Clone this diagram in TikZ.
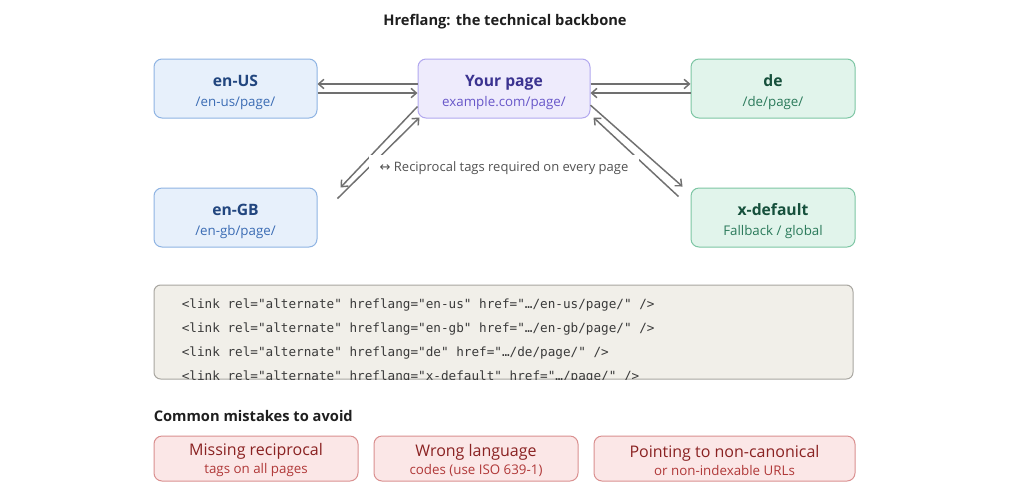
\documentclass[tikz,border=0pt]{standalone}
\usepackage{fontspec}
\setmainfont{Open Sans}
\setmonofont{DejaVu Sans Mono}
\newfontfamily\flechafont{DejaVu Sans}
\usepackage{xcolor}
\usepackage{tikz}
\usetikzlibrary{arrows.meta, positioning, calc}

\definecolor{azulFondo}{HTML}{E7F0FB}
\definecolor{azulBorde}{HTML}{8FB4E3}
\definecolor{azulTexto}{HTML}{22467F}
\definecolor{azulSub}{HTML}{3B6CB4}
\definecolor{moradoFondo}{HTML}{EEEBFC}
\definecolor{moradoBorde}{HTML}{B2A8EF}
\definecolor{moradoTexto}{HTML}{3B3390}
\definecolor{moradoSub}{HTML}{6857C9}
\definecolor{verdeFondo}{HTML}{E1F4EB}
\definecolor{verdeBorde}{HTML}{7DC6A4}
\definecolor{verdeTexto}{HTML}{16503C}
\definecolor{verdeSub}{HTML}{2B7A5B}
\definecolor{codFondo}{HTML}{F1EFE9}
\definecolor{codBorde}{HTML}{A8A6A0}
\definecolor{codTexto}{HTML}{3A3A3A}
\definecolor{rojoFondo}{HTML}{FBE7E7}
\definecolor{rojoBorde}{HTML}{DA9090}
\definecolor{rojoTexto}{HTML}{8A2222}
\definecolor{rojoSub}{HTML}{B03838}
\definecolor{gris}{HTML}{707070}

\newcommand{\tit}[1]{{\fontsize{11.75}{12}\selectfont\bfseries\rule{0pt}{14.5pt}#1}}
\newcommand{\err}[1]{{\fontsize{12}{12}\selectfont\rule{0pt}{12pt}#1}}

\begin{document}
\begin{tikzpicture}[
  x=0.75pt, y=-0.75pt,
  caja/.style={rectangle, rounded corners=6pt, line width=0.75pt, inner sep=0pt,
               minimum height=44.25pt, align=center,
               font=\fontsize{10}{15.25}\selectfont},
  idioma/.style={caja, fill=azulFondo, draw=azulBorde, text=azulTexto, minimum width=122.25pt},
  principal/.style={caja, fill=moradoFondo, draw=moradoBorde, text=moradoTexto, minimum width=129pt},
  verde/.style={caja, fill=verdeFondo, draw=verdeBorde, text=verdeTexto, minimum width=123pt},
  codigo/.style={rectangle, rounded corners=5pt, line width=0.75pt, fill=codFondo, draw=codBorde,
                 minimum width=524.25pt, minimum height=70.5pt, inner sep=0pt},
  linea/.style={font=\ttfamily\fontsize{9.5}{11}\selectfont, text=codTexto, inner sep=0pt, anchor=base west},
  error/.style={caja, fill=rojoFondo, draw=rojoBorde, text=rojoTexto, minimum height=33.75pt,
                font=\fontsize{10}{13.5}\selectfont},
  fl/.style={-{Straight Barb[length=4pt, width=7pt]}, line width=1.1pt, gris},
  etiqueta/.style={font=\fontsize{9.75}{11}\selectfont, text=black!68, fill=white,
                   inner xsep=8pt, minimum height=19.5pt},
  titulo/.style={font=\fontsize{11}{12}\selectfont\bfseries, text=black!88, inner sep=0pt}
]
\path[use as bounding box, fill=white] (0,0) rectangle (1024,501);

% ---- Titulo ----
\node[titulo] (tit) at (505,22) {Hreflang: the technical backbone};

% ---- Paginas ----
\node[principal] (page) at (504,88.5) {\tit{Your page}\\{\color{moradoSub}example.com/page/}};
\node[idioma, left=75pt of page] (enus) {\tit{en-US}\\{\color{azulSub}/en-us/page/}};
\node[verde, right=75pt of page] (de) {\tit{de}\\{\color{verdeSub}/de/page/}};
\node[idioma, below=51.75pt of enus] (engb) {\tit{en-GB}\\{\color{azulSub}/en-gb/page/}};
\node[verde, below=51.75pt of de] (xdef) {\tit{x-default}\\{\color{verdeSub}Fallback / global}};

% ---- Enlaces reciprocos ----
\draw[fl] ([yshift=3.4pt]page.west) -- ([yshift=3.4pt]enus.east);
\draw[fl] ([yshift=-3.4pt]enus.east) -- ([yshift=-3.4pt]page.west);
\draw[fl] ([yshift=3.4pt]page.east) -- ([yshift=3.4pt]de.west);
\draw[fl] ([yshift=-3.4pt]de.west) -- ([yshift=-3.4pt]page.east);
\draw[fl] ([yshift=-13.5pt]page.west) -- ([xshift=17.25pt]engb.north east);
\draw[fl] ([xshift=15pt, yshift=-8.25pt]engb.north east) -- ([xshift=1.5pt, yshift=0.75pt]page.south west);
\draw[fl] ([yshift=-12.5pt]page.east) -- ([xshift=-6pt, yshift=0.75pt]xdef.north west);
\draw[fl] ([xshift=-9pt, yshift=-6.75pt]xdef.north west) -- ([xshift=2.25pt, yshift=0.75pt]page.south east);
\node[etiqueta] (recip) at (504,168) {{\flechafont ↔} Reciprocal tags required on every page};

% ---- Codigo ----
\node[codigo, below=27.75pt of engb.south west, anchor=north west] (code) {};
\begin{scope}
  \clip[rounded corners=5pt] (code.north west) rectangle (code.south east);
  \node[linea] (l1) at ($(code.north west)+(28,23.5)$) {<link rel="alternate" hreflang="en-us" href="…/en-us/page/" />};
  \node[linea] (l2) at ($(code.north west)+(28,47.5)$) {<link rel="alternate" hreflang="en-gb" href="…/en-gb/page/" />};
  \node[linea] (l3) at ($(code.north west)+(28,71.5)$) {<link rel="alternate" hreflang="de" href="…/de/page/" />};
  \node[linea] (l4) at ($(code.north west)+(28,95.5)$) {<link rel="alternate" hreflang="x-default" href="…/page/" />};
\end{scope}

% ---- Errores comunes ----
\node[titulo, anchor=west] (errs) at ($(code.south west)+(0,36)$) {Common mistakes to avoid};
\node[error, minimum width=153pt, below=42pt of code.south west, anchor=north west] (m1)
  {\err{Missing reciprocal}\\{\color{rojoSub}tags on all pages}};
\node[error, minimum width=153pt, right=11.25pt of m1] (m2)
  {\err{Wrong language}\\{\color{rojoSub}codes (use ISO 639-1)}};
\node[error, minimum width=195.75pt, right=11.25pt of m2] (m3)
  {\err{Pointing to non-canonical}\\{\color{rojoSub}or non-indexable URLs}};
\end{tikzpicture}
\end{document}
